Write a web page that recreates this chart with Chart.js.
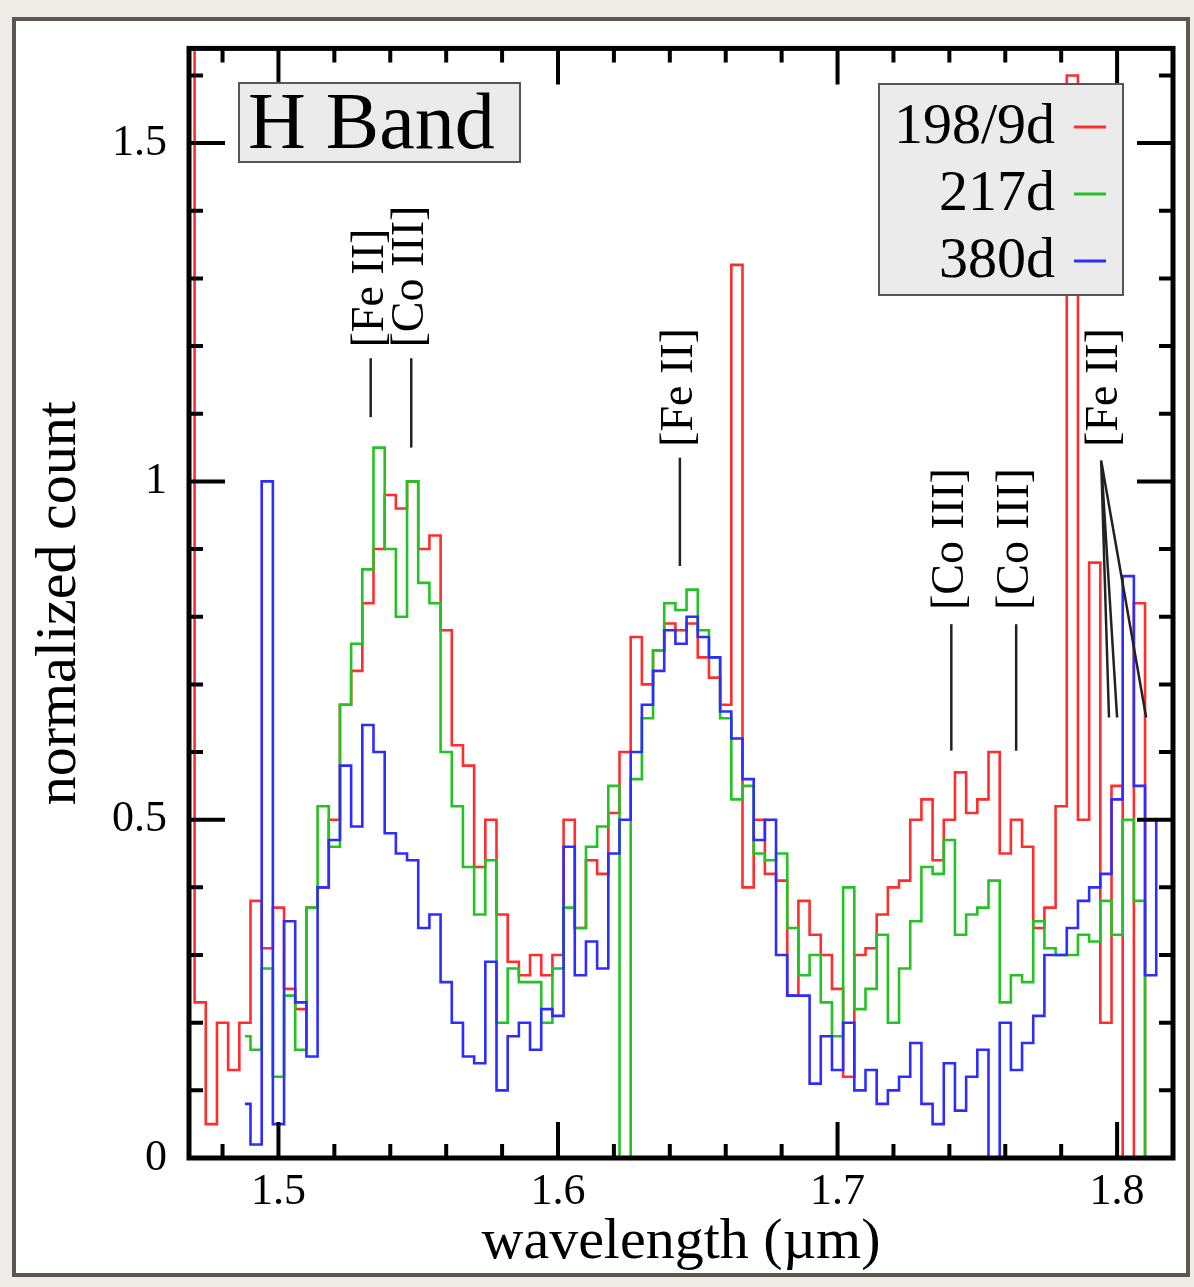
<!DOCTYPE html>
<html>
<head>
<meta charset="utf-8">
<script src="https://cdn.jsdelivr.net/npm/chart.js@4.4.1/dist/chart.umd.min.js"></script>
<style>
  html, body { margin: 0; padding: 0; background: #efece7; }
  #frame { position: absolute; left: 12px; top: 17px; width: 1178px; height: 1260px; box-sizing: border-box; border: 4px solid #5b5854; background: #fff; }
  #wrap { position: absolute; left: 0; top: 0; width: 1194px; height: 1287px; }
</style>
</head>
<body>
<div id="frame"></div>
<div id="wrap"><canvas id="myChart" width="1194" height="1287"></canvas></div>
<script>
// wavelength bins (micron)
const wavelengths = [
    1.468, 1.472, 1.476, 1.480, 1.484, 1.488, 1.492, 1.496, 1.500, 1.504, 1.508, 1.512,
    1.516, 1.520, 1.524, 1.528, 1.532, 1.536, 1.540, 1.544, 1.548, 1.552, 1.556, 1.560,
    1.564, 1.568, 1.572, 1.576, 1.580, 1.584, 1.588, 1.592, 1.596, 1.600, 1.604, 1.608,
    1.612, 1.616, 1.620, 1.624, 1.628, 1.632, 1.636, 1.640, 1.644, 1.648, 1.652, 1.656,
    1.660, 1.664, 1.668, 1.672, 1.676, 1.680, 1.684, 1.688, 1.692, 1.696, 1.700, 1.704,
    1.708, 1.712, 1.716, 1.720, 1.724, 1.728, 1.732, 1.736, 1.740, 1.744, 1.748, 1.752,
    1.756, 1.760, 1.764, 1.768, 1.772, 1.776, 1.780, 1.784, 1.788, 1.792, 1.796, 1.800,
    1.804, 1.808, 1.812, 1.816
];

const flux198 = [
    2.0, 0.23, 0.05, 0.2, 0.13, 0.2, 0.38, 0.31, 0.37, 0.25, 0.22, 0.37,
    0.4, 0.5, 0.67, 0.72, 0.82, 0.9, 0.98, 0.96, 1.0, 0.9, 0.92, 0.78,
    0.61, 0.58, 0.43, 0.5, 0.36, 0.29, 0.27, 0.3, 0.27, 0.3, 0.5, 0.34,
    0.44, 0.42, 0.51, 0.6, 0.77, 0.7, 0.75, 0.79, 0.78, 0.79, 0.74, 0.71,
    0.67, 1.32, 0.4, 0.5, 0.42, 0.41, 0.24, 0.38, 0.33, 0.3, 0.25, 0.12,
    0.3, 0.31, 0.36, 0.4, 0.41, 0.5, 0.53, 0.44, 0.5, 0.57, 0.51, 0.53,
    0.6, 0.45, 0.5, 0.46, 0.34, 0.37, 0.52, 1.6, 0.5, 0.88, 0.2, 0.55,
    0.0, 0.82, 0.0, 0.0
];

const flux217 = [
    null, null, null, null, null, 0.18, 0.16, 0.28, 0.12, 0.24, 0.16, 0.37,
    0.52, 0.46, 0.67, 0.76, 0.87, 1.05, 0.9, 0.8, 1.0, 0.85, 0.82, 0.6,
    0.52, 0.43, 0.36, 0.44, 0.2, 0.28, 0.26, 0.26, 0.2, 0.28, 0.37, 0.34,
    0.46, 0.49, 0.55, 0.0, 0.56, 0.65, 0.75, 0.82, 0.81, 0.84, 0.78, 0.74,
    0.65, 0.53, 0.55, 0.45, 0.44, 0.45, 0.34, 0.27, 0.3, 0.23, 0.18, 0.4,
    0.22, 0.25, 0.33, 0.2, 0.28, 0.35, 0.43, 0.42, 0.47, 0.33, 0.36, 0.37,
    0.41, 0.23, 0.27, 0.26, 0.35, 0.31, 0.3, 0.3, 0.33, 0.32, 0.38, 0.33,
    0.5, 0.38, 0.0, 0.0
];

const flux380 = [
    null, null, null, null, null, 0.08, 0.02, 1.0, 0.05, 0.35, 0.23, 0.15,
    0.4, 0.47, 0.58, 0.49, 0.64, 0.6, 0.48, 0.45, 0.44, 0.34, 0.36, 0.26,
    0.2, 0.15, 0.14, 0.29, 0.1, 0.18, 0.2, 0.16, 0.22, 0.21, 0.46, 0.27,
    0.32, 0.28, 0.45, 0.5, 0.6, 0.67, 0.72, 0.78, 0.76, 0.8, 0.77, 0.74,
    0.66, 0.62, 0.56, 0.47, 0.5, 0.3, 0.24, 0.24, 0.11, 0.18, 0.13, 0.2,
    0.1, 0.13, 0.08, 0.1, 0.12, 0.17, 0.08, 0.05, 0.14, 0.07, 0.12, 0.16,
    0.0, 0.2, 0.13, 0.17, 0.21, 0.3, 0.3, 0.34, 0.38, 0.4, 0.42, 0.53,
    0.86, 0.55, 0.27, 0.5
];

const seriesLabels = ['198/9d', '217d', '380d'];
const seriesColors = ['rgb(255,45,45)', 'rgb(35,195,35)', 'rgb(45,45,255)'];
const xTickValues = [1.5, 1.6, 1.7, 1.8];
const yTickValues = [0, 0.5, 1, 1.5];

// line identifications: wavelength, label baseline value, marker top/bottom values
const lineIds = [
    { text: '[Fe II]', x: 1.533, textFrom: 1.198, top: [1.533, 1.182], ends: [[1.533, 1.095]] },
    { text: '[Co III]', x: 1.5475, textFrom: 1.198, top: [1.5475, 1.182], ends: [[1.5475, 1.05]] },
    { text: '[Fe II]', x: 1.6436, textFrom: 1.051, top: [1.6436, 1.035], ends: [[1.6436, 0.875]] },
    { text: '[Co III]', x: 1.7407, textFrom: 0.81, top: [1.7407, 0.789], ends: [[1.7407, 0.602]] },
    { text: '[Co III]', x: 1.7639, textFrom: 0.81, top: [1.7639, 0.789], ends: [[1.7639, 0.602]] },
    { text: '[Fe II]', x: 1.7955, textFrom: 1.051, top: [1.7943, 1.031], ends: [[1.7971, 0.651], [1.80, 0.651], [1.8104, 0.651]] }
];

const serif = "'Liberation Serif', 'Times New Roman', serif";

function makeSeries(values) {
    return wavelengths.map((w, i) => ({ x: w, y: values[i] }));
}

function drawFrameAndTicks(chart) {
    const ctx = chart.ctx;
    const area = chart.chartArea;
    const xs = chart.scales.x;
    const ys = chart.scales.y;
    ctx.save();
    ctx.strokeStyle = '#000';
    ctx.lineWidth = 4;
    ctx.beginPath();
    for (let k = 74; k <= 91; k++) {
        const px = xs.getPixelForValue(k * 0.02);
        const len = k % 5 === 0 ? 36 : 14;
        ctx.moveTo(px, area.bottom);
        ctx.lineTo(px, area.bottom - len);
        ctx.moveTo(px, area.top);
        ctx.lineTo(px, area.top + len);
    }
    for (let k = 1; k <= 16; k++) {
        const py = ys.getPixelForValue(k * 0.1);
        const len = k % 5 === 0 ? 36 : 14;
        ctx.moveTo(area.left, py);
        ctx.lineTo(area.left + len, py);
        ctx.moveTo(area.right, py);
        ctx.lineTo(area.right - len, py);
    }
    ctx.stroke();
    ctx.lineWidth = 5;
    ctx.strokeRect(area.left, area.top, area.right - area.left, area.bottom - area.top);
    ctx.restore();
}

function drawLineIds(chart) {
    const ctx = chart.ctx;
    const xs = chart.scales.x;
    const ys = chart.scales.y;
    ctx.save();
    ctx.strokeStyle = '#222';
    ctx.lineWidth = 2.5;
    ctx.fillStyle = '#000';
    ctx.font = '46px ' + serif;
    ctx.textAlign = 'left';
    ctx.textBaseline = 'middle';
    lineIds.forEach(id => {
        const tx = xs.getPixelForValue(id.top[0]);
        const ty = ys.getPixelForValue(id.top[1]);
        ctx.beginPath();
        id.ends.forEach(e => {
            ctx.moveTo(tx, ty);
            ctx.lineTo(xs.getPixelForValue(e[0]), ys.getPixelForValue(e[1]));
        });
        ctx.stroke();
        ctx.save();
        ctx.translate(xs.getPixelForValue(id.x), ys.getPixelForValue(id.textFrom));
        ctx.rotate(-Math.PI / 2);
        ctx.fillText(id.text, 0, 0);
        ctx.restore();
    });
    ctx.restore();
}

function drawBoxes(chart) {
    const ctx = chart.ctx;
    ctx.save();
    ctx.fillStyle = '#ebebeb';
    ctx.strokeStyle = '#555';
    ctx.lineWidth = 2;

    // title box
    ctx.fillRect(239, 83, 281, 79);
    ctx.strokeRect(239, 83, 281, 79);
    ctx.fillStyle = '#000';
    ctx.font = '80px ' + serif;
    ctx.textAlign = 'left';
    ctx.textBaseline = 'alphabetic';
    ctx.fillText('H Band', 248, 148);

    // legend box
    ctx.fillStyle = '#ebebeb';
    ctx.fillRect(879, 84, 244, 211);
    ctx.strokeRect(879, 84, 244, 211);
    ctx.font = '58px ' + serif;
    ctx.textAlign = 'right';
    seriesLabels.forEach((label, i) => {
        const base = 143 + i * 67;
        ctx.fillStyle = '#000';
        ctx.fillText(label, 1055, base);
        ctx.strokeStyle = seriesColors[i];
        ctx.lineWidth = 3;
        ctx.beginPath();
        ctx.moveTo(1074, base - 16);
        ctx.lineTo(1106, base - 16);
        ctx.stroke();
    });
    ctx.restore();
}

const decorPlugin = {
    id: 'decor',
    afterDatasetsDraw(chart) {
        drawLineIds(chart);
        drawFrameAndTicks(chart);
        drawBoxes(chart);
    }
};

const ctx = document.getElementById('myChart').getContext('2d');

const seriesData = [flux198, flux217, flux380];

new Chart(ctx, {
    type: 'line',
    data: {
        datasets: seriesData.map((values, i) => ({
            label: seriesLabels[i],
            data: makeSeries(values),
            borderColor: seriesColors[i],
            borderWidth: 2.6,
            stepped: 'middle',
            pointRadius: 0,
            fill: false,
            spanGaps: false,
            order: 3 - i
        }))
    },
    options: {
        responsive: false,
        animation: false,
        devicePixelRatio: 1,
        layout: { padding: { left: 0, top: 42, right: 21, bottom: 0 } },
        plugins: {
            legend: { display: false },
            tooltip: { enabled: false }
        },
        scales: {
            x: {
                type: 'linear',
                min: 1.468,
                max: 1.82,
                grid: { display: false, drawTicks: false },
                border: { display: false },
                afterBuildTicks: s => { s.ticks = xTickValues.map(v => ({ value: v })); },
                afterFit: s => { s.height = 129; },
                ticks: {
                    font: { family: serif, size: 44 },
                    color: '#000',
                    padding: 8,
                    maxRotation: 0,
                    autoSkip: false,
                    callback: v => v.toFixed(1)
                },
                title: {
                    display: true,
                    text: 'wavelength (µm)',
                    font: { family: serif, size: 58 },
                    color: '#000',
                    padding: { top: 0, bottom: 9 }
                }
            },
            y: {
                type: 'linear',
                min: 0,
                max: 1.64,
                grid: { display: false, drawTicks: false },
                border: { display: false },
                afterBuildTicks: s => { s.ticks = yTickValues.map(v => ({ value: v })); },
                afterFit: s => { s.width = 189; },
                ticks: {
                    font: { family: serif, size: 44 },
                    color: '#000',
                    padding: 22,
                    autoSkip: false,
                    callback: v => String(v)
                },
                title: {
                    display: true,
                    text: 'normalized count',
                    font: { family: serif, size: 58 },
                    color: '#000',
                    padding: { top: 25, bottom: 0 }
                }
            }
        }
    },
    plugins: [decorPlugin]
});
</script>
</body>
</html>
